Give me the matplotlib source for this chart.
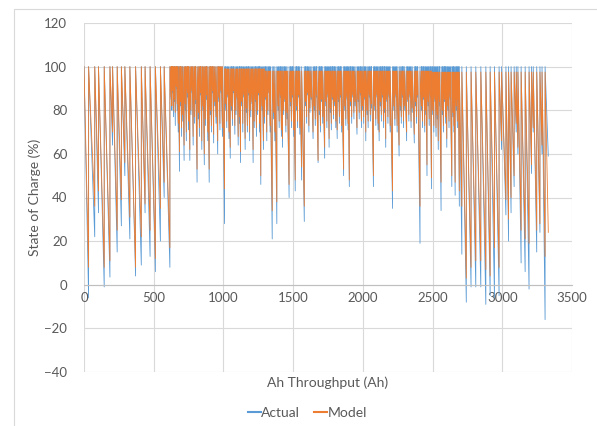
import numpy as np
import matplotlib.pyplot as plt
from matplotlib.patches import Rectangle

plt.rcParams["font.family"] = ["Lato", "DejaVu Sans"]

# Ah throughput at the bottom of each discharge
dip_ah = [
    33, 77, 104, 145, 186, 205, 238, 268, 293, 329,
    370, 411, 438, 474, 512, 548, 575, 616, 625, 630,
    636, 642, 648, 655, 662, 668, 676, 685, 692, 700,
    708, 718, 726, 734, 742, 750, 759, 767, 775, 783,
    792, 800, 811, 820, 828, 836, 845, 853, 863, 871,
    879, 888, 898, 906, 914, 922, 930, 938, 947, 959,
    967, 975, 983, 993, 1008, 1016, 1024, 1032, 1040, 1049,
    1057, 1065, 1073, 1082, 1090, 1098, 1106, 1115, 1123, 1131,
    1139, 1147, 1156, 1164, 1172, 1180, 1188, 1196, 1205, 1213,
    1221, 1229, 1237, 1245, 1253, 1260, 1268, 1277, 1287, 1295,
    1303, 1311, 1319, 1327, 1335, 1350, 1360, 1369, 1383, 1392,
    1400, 1408, 1416, 1424, 1432, 1440, 1448, 1456, 1471, 1480,
    1488, 1496, 1504, 1515, 1524, 1532, 1540, 1548, 1561, 1580,
    1589, 1597, 1605, 1613, 1621, 1629, 1643, 1651, 1659, 1667,
    1679, 1688, 1696, 1704, 1712, 1726, 1734, 1742, 1750, 1758,
    1766, 1774, 1782, 1790, 1798, 1806, 1816, 1824, 1832, 1840,
    1848, 1862, 1870, 1878, 1886, 1894, 1903, 1912, 1920, 1928,
    1936, 1944, 1958, 1966, 1974, 1982, 1990, 1998, 2006, 2014,
    2021, 2030, 2038, 2046, 2054, 2062, 2076, 2085, 2093, 2101,
    2109, 2117, 2125, 2133, 2141, 2149, 2156, 2164, 2172, 2180,
    2188, 2196, 2213, 2222, 2230, 2238, 2246, 2260, 2268, 2276,
    2284, 2292, 2300, 2314, 2322, 2330, 2338, 2346, 2354, 2369,
    2377, 2385, 2393, 2410, 2420, 2428, 2436, 2444, 2452, 2460,
    2468, 2476, 2484, 2492, 2501, 2509, 2517, 2525, 2533, 2541,
    2549, 2561, 2570, 2578, 2586, 2594, 2602, 2610, 2618, 2626,
    2638, 2646, 2653, 2662, 2670, 2678, 2684, 2692, 2710, 2742,
    2776, 2810, 2846, 2882, 2913, 2944, 2977, 2995, 3026, 3045,
    3063, 3085, 3100, 3112, 3135, 3164, 3192, 3210, 3222, 3247,
    3270, 3285, 3307, 3330,
]

actual_dip = [
    -6, 22, 33, -1, 3.5, 64, 15, 27, 50, 21,
    4, 9, 33, 13, 6, 20, 40, 8, 85, 80,
    88, 77, 84, 73, 90, 80, 70, 52, 82, 68,
    75, 57, 80, 66, 86, 71, 57, 78, 88, 64,
    74, 83, 47, 76, 68, 87, 62, 80, 55, 73,
    85, 66, 47, 78, 70, 88, 65, 82, 74, 60,
    84, 71, 88, 68, 28, 80, 72, 86, 67, 58,
    80, 73, 88, 69, 78, 85, 64, 74, 56, 82,
    70, 86, 62, 79, 70, 87, 66, 77, 83, 56,
    72, 84, 68, 78, 87, 70, 46, 80, 62, 74,
    85, 66, 78, 88, 70, 21, 76, 66, 28, 80,
    72, 86, 68, 63, 78, 84, 70, 76, 40, 82,
    72, 86, 68, 43, 80, 72, 86, 69, 48, 29,
    82, 74, 87, 70, 79, 85, 67, 80, 73, 86,
    56, 78, 70, 84, 74, 58, 82, 72, 86, 63,
    79, 71, 85, 76, 82, 72, 67, 84, 74, 86,
    70, 50, 80, 73, 85, 71, 45, 82, 74, 86,
    76, 82, 69, 84, 76, 87, 72, 80, 74, 85,
    66, 78, 72, 86, 75, 81, 45, 80, 73, 86,
    71, 66, 82, 75, 86, 72, 79, 63, 84, 74,
    86, 70, 35, 80, 73, 86, 70, 59, 80, 74,
    86, 72, 80, 66, 84, 75, 86, 72, 79, 65,
    82, 74, 86, 19, 80, 72, 85, 70, 78, 50,
    82, 73, 86, 44, 78, 70, 84, 68, 76, 62,
    82, 34, 78, 70, 84, 74, 63, 80, 72, 85,
    45, 77, 70, 41, 80, 72, 84, 36, 14, -8,
    -1, -1, -1, -9, -5, -6, -5, 62, 32, 20,
    33, 45, 70, 60, 10, 6, -2, 51, 70, 15,
    24, 60, -16, 59,
]

model_dip = [
    8, 36, 43, 8, 11, 70, 25, 39, 56, 31,
    8, 22, 37, 25, 12, 35, 47, 17, 86, 82,
    89, 80, 85, 79, 91, 83, 74, 61, 84, 72,
    78, 64, 83, 70, 88, 75, 62, 80, 89, 68,
    77, 85, 53, 79, 72, 88, 66, 82, 60, 76,
    87, 70, 53, 80, 73, 89, 69, 84, 77, 66,
    86, 74, 89, 72, 44, 83, 75, 87, 70, 63,
    82, 76, 89, 73, 80, 86, 68, 77, 61, 84,
    74, 87, 67, 81, 73, 88, 70, 80, 84, 62,
    75, 85, 72, 80, 88, 74, 50, 82, 66, 77,
    86, 70, 80, 88, 73, 34, 79, 70, 38, 82,
    75, 87, 71, 67, 80, 85, 73, 79, 46, 84,
    75, 87, 71, 48, 82, 75, 87, 72, 54, 36,
    84, 77, 88, 73, 81, 86, 70, 82, 76, 87,
    57, 80, 73, 85, 77, 63, 84, 75, 87, 67,
    81, 74, 86, 78, 84, 75, 71, 85, 77, 87,
    73, 53, 82, 76, 86, 74, 48, 84, 77, 87,
    79, 84, 72, 85, 79, 88, 75, 82, 77, 86,
    70, 80, 75, 87, 78, 83, 50, 82, 76, 87,
    74, 70, 84, 78, 87, 75, 81, 67, 85, 77,
    87, 73, 43, 82, 76, 87, 73, 64, 82, 77,
    87, 75, 82, 70, 85, 78, 87, 75, 81, 69,
    84, 77, 87, 36, 82, 75, 86, 73, 80, 55,
    84, 76, 87, 49, 80, 73, 85, 72, 78, 66,
    84, 47, 80, 73, 85, 77, 67, 82, 75, 86,
    50, 79, 73, 47, 82, 75, 85, 43, 36, 3,
    8, 11, 11, 7, 4, 17, 8, 66, 39, 30,
    40, 50, 74, 63, 25, 21, 19, 55, 72, 25,
    28, 64, 13, 24,
]

# model charge ceiling drifts down a little over the test
model_top_from = [0, 1000, 1300, 2500]
model_top_soc = [100, 99, 98, 97.5]

assert len(dip_ah) == len(actual_dip) == len(model_dip)


def sawtooth(dips, tops):
    # discharge from the previous top down to the dip, charge back up
    xs, ys = [0], [tops[0]]
    for i in range(len(dip_ah)):
        xs.append(dip_ah[i])
        ys.append(dips[i])
        if i + 1 < len(dip_ah):
            xs.append(dip_ah[i])
            ys.append(tops[i + 1])
    return xs, ys


actual_top = [100] * len(dip_ah)
prev_ah = [0] + dip_ah[:-1]
idx = np.searchsorted(model_top_from, prev_ah, side="right") - 1
model_top = [model_top_soc[k] for k in idx]

ax_x, ax_y = sawtooth(actual_dip, actual_top)
mo_x, mo_y = sawtooth(model_dip, model_top)

fig = plt.figure(figsize=(5.97, 4.26), dpi=100)
ax = fig.add_axes([84 / 597, 1 - 372 / 426, (572 - 84) / 597, (372 - 23) / 426])

ax.plot(ax_x, ax_y, color="#5B9BD5", lw=0.6, label="Actual")
ax.plot(mo_x, mo_y, color="#ED7D31", lw=0.6, label="Model")

ax.set_xlim(0, 3500)
ax.set_ylim(-40, 120)
ax.set_xticks(range(0, 3501, 500))
ax.set_yticks(range(-40, 121, 20))
ax.grid(color="#D9D9D9", lw=0.8)
ax.set_axisbelow(True)

for s in ["top", "right", "left"]:
    ax.spines[s].set_visible(False)
ax.spines["bottom"].set_position(("data", 0))
ax.spines["bottom"].set_color("#BFBFBF")
ax.spines["bottom"].set_linewidth(0.8)
ax.tick_params(length=0, labelsize=9.5, colors="#595959")
ax.tick_params(axis="y", pad=12)
ax.tick_params(axis="x", pad=5)

ax.set_xlabel("Ah Throughput (Ah)", fontsize=10, color="#595959")
ax.xaxis.set_label_coords(0.5, -0.012)
ax.set_ylabel("State of Charge (%)", fontsize=10, color="#595959")
ax.yaxis.set_label_coords(-0.088, 0.5)

leg = fig.legend(loc="center", bbox_to_anchor=(0.515, 0.03), ncol=2, frameon=False,
                 fontsize=10, handlelength=0.9, handletextpad=0.05, columnspacing=1.0,
                 labelcolor="#595959")
for h in leg.get_lines():
    h.set_linewidth(1.5)

fig.patches.append(Rectangle((14 / 597, -0.05), 0.98, 1 - 9 / 426 + 0.05,
                             transform=fig.transFigure, fill=False,
                             edgecolor="#D9D9D9", lw=0.8))

fig.savefig("out.png", dpi=100, facecolor="white")
